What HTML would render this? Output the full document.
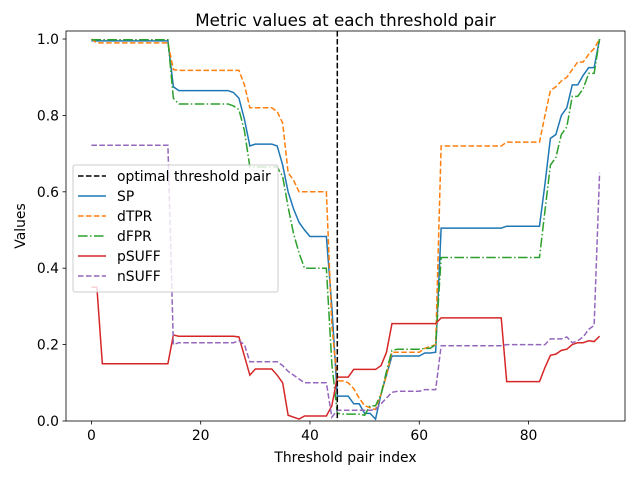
<!DOCTYPE html>
<html><head><meta charset="utf-8"><style>
body{margin:0;background:#fff;}
svg{display:block;font-family:"DejaVu Sans","Liberation Sans",sans-serif;}
</style></head><body>
<svg id="chart" width="640" height="480"></svg>
<script>
const xIdx=[];for(let i=0;i<94;i++)xIdx.push(i);
const spVals=[0.995,0.995,0.995,0.995,0.995,0.995,0.995,0.995,0.995,0.995,0.995,0.995,0.995,0.995,0.995,
0.875,0.865,0.865,0.865,0.865,0.865,0.865,0.865,0.865,0.865,0.865,
0.86,0.845,0.79,0.72,0.725,0.725,0.725,0.725,0.72,0.67,0.6,0.555,0.52,0.5,0.483,0.483,0.483,0.483,
0.3,0.065,0.065,0.065,0.045,0.045,0.02,0.02,0.005,0.07,0.12,
0.17,0.17,0.17,0.17,0.17,0.17,0.178,0.178,0.18,
0.505,0.505,0.505,0.505,0.505,0.505,0.505,0.505,0.505,0.505,0.505,0.505,
0.51,0.51,0.51,0.51,0.51,0.51,0.51,
0.62,0.74,0.75,0.8,0.82,0.88,0.88,0.905,0.925,0.925,1.0];
const dtprVals=[1.0,0.99,0.99,0.99,0.99,0.99,0.99,0.99,0.99,0.99,0.99,0.99,0.99,0.99,0.99,
0.92,0.918,0.918,0.918,0.918,0.918,0.918,0.918,0.918,0.918,0.918,
0.918,0.918,0.88,0.82,0.82,0.82,0.82,0.82,0.81,0.78,0.65,0.63,0.6,0.6,0.6,0.6,0.6,0.6,
0.25,0.105,0.105,0.1,0.085,0.06,0.04,0.035,0.03,0.07,0.12,
0.18,0.18,0.18,0.18,0.18,0.18,0.19,0.195,0.2,
0.72,0.72,0.72,0.72,0.72,0.72,0.72,0.72,0.72,0.72,0.72,0.72,
0.73,0.73,0.73,0.73,0.73,0.73,0.73,
0.8,0.865,0.875,0.89,0.9,0.92,0.94,0.94,0.96,0.975,1.0];
const dfprVals=[0.998,0.998,0.998,0.998,0.998,0.998,0.998,0.998,0.998,0.998,0.998,0.998,0.998,0.998,0.998,
0.845,0.83,0.83,0.83,0.83,0.83,0.83,0.83,0.83,0.83,0.83,
0.825,0.815,0.76,0.665,0.665,0.665,0.665,0.665,0.665,0.64,0.56,0.49,0.44,0.4,0.4,0.4,0.4,0.4,
0.15,0.02,0.018,0.018,0.018,0.018,0.015,0.04,0.04,0.07,0.13,
0.185,0.188,0.188,0.188,0.188,0.188,0.19,0.19,0.2,
0.428,0.428,0.428,0.428,0.428,0.428,0.428,0.428,0.428,0.428,0.428,0.428,
0.428,0.428,0.428,0.428,0.428,0.428,0.428,
0.55,0.67,0.69,0.75,0.77,0.85,0.85,0.87,0.91,0.91,1.0];
const psuffVals=[0.35,0.35,0.15,0.15,0.15,0.15,0.15,0.15,0.15,0.15,0.15,0.15,0.15,0.15,0.15,
0.225,0.222,0.222,0.222,0.222,0.222,0.222,0.222,0.222,0.222,0.222,
0.222,0.22,0.17,0.12,0.136,0.136,0.136,0.136,0.12,0.1,0.015,0.01,0.005,0.013,0.013,0.013,0.013,0.013,
0.04,0.115,0.115,0.115,0.135,0.135,0.135,0.135,0.135,0.145,0.18,
0.255,0.255,0.255,0.255,0.255,0.255,0.255,0.255,0.255,
0.27,0.27,0.27,0.27,0.27,0.27,0.27,0.27,0.27,0.27,0.27,0.27,
0.103,0.103,0.103,0.103,0.103,0.103,0.103,
0.14,0.172,0.175,0.185,0.188,0.2,0.205,0.205,0.21,0.208,0.222];
const nsuffVals=[0.722,0.722,0.722,0.722,0.722,0.722,0.722,0.722,0.722,0.722,0.722,0.722,0.722,0.722,0.722,
0.2,0.205,0.205,0.205,0.205,0.205,0.205,0.205,0.205,0.205,0.205,
0.205,0.21,0.2,0.155,0.155,0.155,0.155,0.155,0.155,0.145,0.13,0.12,0.11,0.1,0.1,0.1,0.1,0.1,
0.01,0.028,0.028,0.028,0.028,0.028,0.028,0.028,0.03,0.045,0.06,
0.075,0.078,0.078,0.078,0.078,0.078,0.082,0.082,0.082,
0.197,0.197,0.197,0.197,0.197,0.197,0.197,0.197,0.197,0.197,0.197,0.197,
0.2,0.2,0.2,0.2,0.2,0.2,0.2,
0.2,0.215,0.215,0.215,0.22,0.205,0.21,0.22,0.24,0.25,0.65];
const optimalIdx=45;
const xTicks=[0,20,40,60,80];
const yTicks=[0.0,0.2,0.4,0.6,0.8,1.0];
const seriesNames=["SP","dTPR","dFPR","pSUFF","nSUFF"];

const NS="http://www.w3.org/2000/svg";
const svg=document.getElementById('chart');
const L=66,R=625,T=31,B=421,XMIN=-4.65,XMAX=97.65,YMIN=0,YMAX=1.021;
const sx=v=>L+(v-XMIN)/(XMAX-XMIN)*(R-L);
const sy=v=>B-(v-YMIN)/(YMAX-YMIN)*(B-T);
function mk(tag,attrs,parent){const e=document.createElementNS(NS,tag);for(const k in attrs)e.setAttribute(k,attrs[k]);(parent||svg).appendChild(e);return e;}
function txt(s,attrs){const e=mk('text',attrs);e.textContent=s;return e;}

const styles=[
 {c:'#1f77b4',d:''},{c:'#ff7f0e',d:'5.55,2.4'},{c:'#2ca02c',d:'9.6,2.4,1.5,2.4'},
 {c:'#d62728',d:''},{c:'#9467bd',d:'5.55,2.4'}];
const allVals=[spVals,dtprVals,dfprVals,psuffVals,nsuffVals];
const clip=mk('clipPath',{id:'pc'});mk('rect',{x:L,y:T,width:R-L,height:B-T},clip);
allVals.forEach((vals,k)=>{
 const p=mk('polyline',{points:vals.map((v,i)=>sx(xIdx[i]).toFixed(2)+','+sy(v).toFixed(2)).join(' '),fill:'none',stroke:styles[k].c,'stroke-width':1.5,'stroke-dasharray':styles[k].d,'clip-path':'url(#pc)'});
 
 
});
const opt=mk('line',{x1:sx(optimalIdx),x2:sx(optimalIdx),y1:T,y2:B,stroke:'#000','stroke-width':1.5,'stroke-dasharray':'5.55,2.4'});



const frame=mk('rect',{x:L,y:T,width:R-L,height:B-T,fill:'none',stroke:'#000','stroke-width':0.8});


xTicks.forEach(t=>{
 mk('line',{x1:sx(t),x2:sx(t),y1:B,y2:B+3.5,stroke:'#000','stroke-width':0.8});
 const e=txt(String(t),{x:sx(t),y:B+19,'font-size':13.9,'text-anchor':'middle'});
 
 
});
yTicks.forEach(t=>{
 mk('line',{x1:L,x2:L-3.5,y1:sy(t),y2:sy(t),stroke:'#000','stroke-width':0.8});
 const e=txt(t.toFixed(1),{x:L-7,y:sy(t)+5,'font-size':13.9,'text-anchor':'end'});
 
 
});
const tt=txt('Metric values at each threshold pair',{x:(L+R)/2,y:26,'font-size':16.7,'text-anchor':'middle'});


const xl=txt('Threshold pair index',{x:(L+R)/2,y:462,'font-size':13.9,'text-anchor':'middle'});


const yl=txt('Values',{x:25,y:(T+B)/2,'font-size':13.9,'text-anchor':'middle',transform:'rotate(-90 25 '+((T+B)/2)+')'});



const lg=mk('g',{});


mk('rect',{x:73,y:165,width:205,height:127,rx:2,fill:'#fff','fill-opacity':0.8,stroke:'#ccc','stroke-width':1},lg);
const lgNames=['optimal threshold pair'].concat(seriesNames);
const lgStyles=[{c:'#000',d:'5.55,2.4'}].concat(styles);
lgNames.forEach((n,k)=>{
 const y=176+k*20;
 const g=mk('g',{},lg);
 
 
 mk('line',{x1:78,x2:106,y1:y,y2:y,stroke:lgStyles[k].c,'stroke-width':1.5,'stroke-dasharray':lgStyles[k].d},g);
 const t=mk('text',{x:117,y:y+5,'font-size':13.9},g);t.textContent=n;
});
</script>
</body></html>
